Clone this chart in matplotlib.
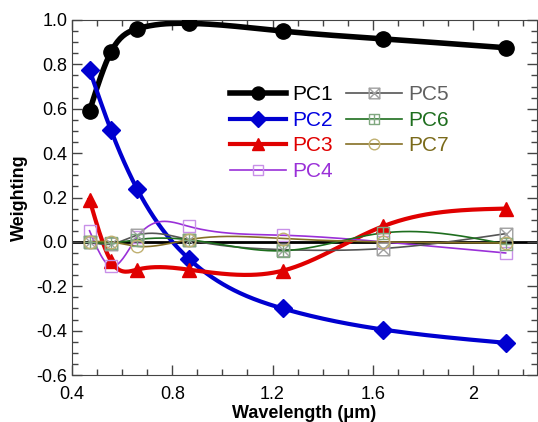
import numpy as np
import matplotlib
matplotlib.use('Agg')
import matplotlib.pyplot as plt
from matplotlib.path import Path
from matplotlib.ticker import MultipleLocator

plt.rcParams['font.family'] = ['Liberation Sans', 'DejaVu Sans']

# MODIS band centres (um)
wavelength = [0.47, 0.555, 0.659, 0.865, 1.24, 1.64, 2.13]
pc1 = [0.59, 0.855, 0.96, 0.985, 0.95, 0.915, 0.875]
pc2 = [0.775, 0.505, 0.24, -0.075, -0.30, -0.395, -0.455]
pc3 = [0.19, -0.085, -0.125, -0.125, -0.13, 0.07, 0.15]
pc4 = [0.05, -0.11, 0.02, 0.07, 0.03, 0.0, -0.05]
pc5 = [0.0, -0.01, 0.03, 0.01, -0.035, -0.03, 0.037]
pc6 = [0.0, -0.005, 0.01, 0.01, -0.04, 0.04, -0.01]
pc7 = [0.0, 0.0, -0.02, 0.01, 0.015, 0.0, -0.005]
labels = ['PC1', 'PC2', 'PC3', 'PC4', 'PC5', 'PC6', 'PC7']


def spline(x, y, n=300):
    # natural cubic spline, only used to draw a smooth curve
    x = np.asarray(x, float)
    y = np.asarray(y, float)
    k = len(x)
    h = np.diff(x)
    A = np.zeros((k, k))
    b = np.zeros(k)
    A[0, 0] = A[-1, -1] = 1
    for i in range(1, k - 1):
        A[i, i - 1] = h[i - 1]
        A[i, i] = 2 * (h[i - 1] + h[i])
        A[i, i + 1] = h[i]
        b[i] = 6 * ((y[i + 1] - y[i]) / h[i] - (y[i] - y[i - 1]) / h[i - 1])
    m = np.linalg.solve(A, b)
    xs = np.linspace(x[0], x[-1], n)
    idx = np.clip(np.searchsorted(x, xs) - 1, 0, k - 2)
    x0, x1 = x[idx], x[idx + 1]
    hh = x1 - x0
    t0, t1 = x1 - xs, xs - x0
    ys = (m[idx] * t0 ** 3 + m[idx + 1] * t1 ** 3) / (6 * hh) \
        + (y[idx] / hh - m[idx] * hh / 6) * t0 \
        + (y[idx + 1] / hh - m[idx + 1] * hh / 6) * t1
    return xs, ys


sq = [(-1, -1), (1, -1), (1, 1), (-1, 1), (-1, -1)]
box_x = Path(sq + [(-1, -1), (1, 1), (-1, 1), (1, -1)],
             [Path.MOVETO] + [Path.LINETO] * 4 + [Path.MOVETO, Path.LINETO, Path.MOVETO, Path.LINETO])
box_plus = Path(sq + [(0, -1), (0, 1), (-1, 0), (1, 0)],
                [Path.MOVETO] + [Path.LINETO] * 4 + [Path.MOVETO, Path.LINETO, Path.MOVETO, Path.LINETO])

series = [pc1, pc2, pc3, pc4, pc5, pc6, pc7]
styles = [
    dict(color='black', lw=4, marker='o', ms=11, mfc='black', mec='black', text='black'),
    dict(color='#0000d0', lw=3, marker='D', ms=9, mfc='#0000d0', mec='#0000d0', text='#0000e0'),
    dict(color='#e00000', lw=3, marker='^', ms=10, mfc='#e00000', mec='#e00000', text='#e00000'),
    dict(color='#9a30d8', lw=1.2, marker='s', ms=9, mfc='none', mec='#c890e8', text='#9a30d8'),
    dict(color='#555555', lw=1.2, marker=box_x, ms=9, mfc='none', mec='#a0a0a0', text='#606060'),
    dict(color='#1e6e1e', lw=1.2, marker=box_plus, ms=9, mfc='none', mec='#80a880', text='#1e6e1e'),
    dict(color='#857025', lw=1.2, marker='o', ms=9, mfc='none', mec='#c0b070', text='#7a6a1a'),
]

fig = plt.figure(figsize=(5.38, 4.22), dpi=100)
ax = fig.add_axes([72 / 538, 47 / 422, 465 / 538, 355 / 422])

ax.axhline(0, color='black', lw=2, zorder=1)

handles = []
for vals, st, lab in zip(series, styles, labels):
    xs, ys = spline(wavelength, vals)
    ax.plot(xs, ys, color=st['color'], lw=st['lw'], zorder=2)
    ax.plot(wavelength, vals, ls='none', marker=st['marker'], ms=st['ms'],
            mfc=st['mfc'], mec=st['mec'], mew=1.0, zorder=3)
    h, = ax.plot([], [], color=st['color'], lw=st['lw'], marker=st['marker'],
                 ms=st['ms'] * 0.85, mfc=st['mfc'], mec=st['mec'], mew=1.0, label=lab)
    handles.append(h)

leg = ax.legend(handles=handles, ncol=2, frameon=False, fontsize=15,
                loc='upper left', bbox_to_anchor=(0.322, 0.84),
                handlelength=2.7, handletextpad=0.3, columnspacing=0.6,
                labelspacing=0.32, borderaxespad=0)
for t, st in zip(leg.get_texts(), styles):
    t.set_color(st['text'])

ax.set_xlim(0.4, 2.255)
ax.set_ylim(-0.6, 1.0)
ax.xaxis.set_major_locator(MultipleLocator(0.4))
ax.xaxis.set_minor_locator(MultipleLocator(0.1))
ax.yaxis.set_major_locator(MultipleLocator(0.2))
ax.yaxis.set_minor_locator(MultipleLocator(0.05))
ax.set_xticks([0.4, 0.8, 1.2, 1.6, 2.0])
ax.set_xticklabels(['0.4', '0.8', '1.2', '1.6', '2'])
ax.set_yticks(np.arange(-0.6, 1.01, 0.2))
ax.set_yticklabels(['%.1f' % v for v in np.arange(-0.6, 1.01, 0.2)])
ax.tick_params(which='both', direction='in', top=True, right=True, labelsize=13,
               color='#444444', width=1)
ax.tick_params(which='major', length=7)
ax.tick_params(which='minor', length=4)
ax.tick_params(axis='x', pad=8)
for s in ax.spines.values():
    s.set_color('#444444')

ax.set_xlabel('Wavelength (\u03bcm)', fontsize=13, fontweight='bold', labelpad=1)
ax.set_ylabel('Weighting', fontsize=13, fontweight='bold', labelpad=6)

fig.savefig('out.png', dpi=100)
